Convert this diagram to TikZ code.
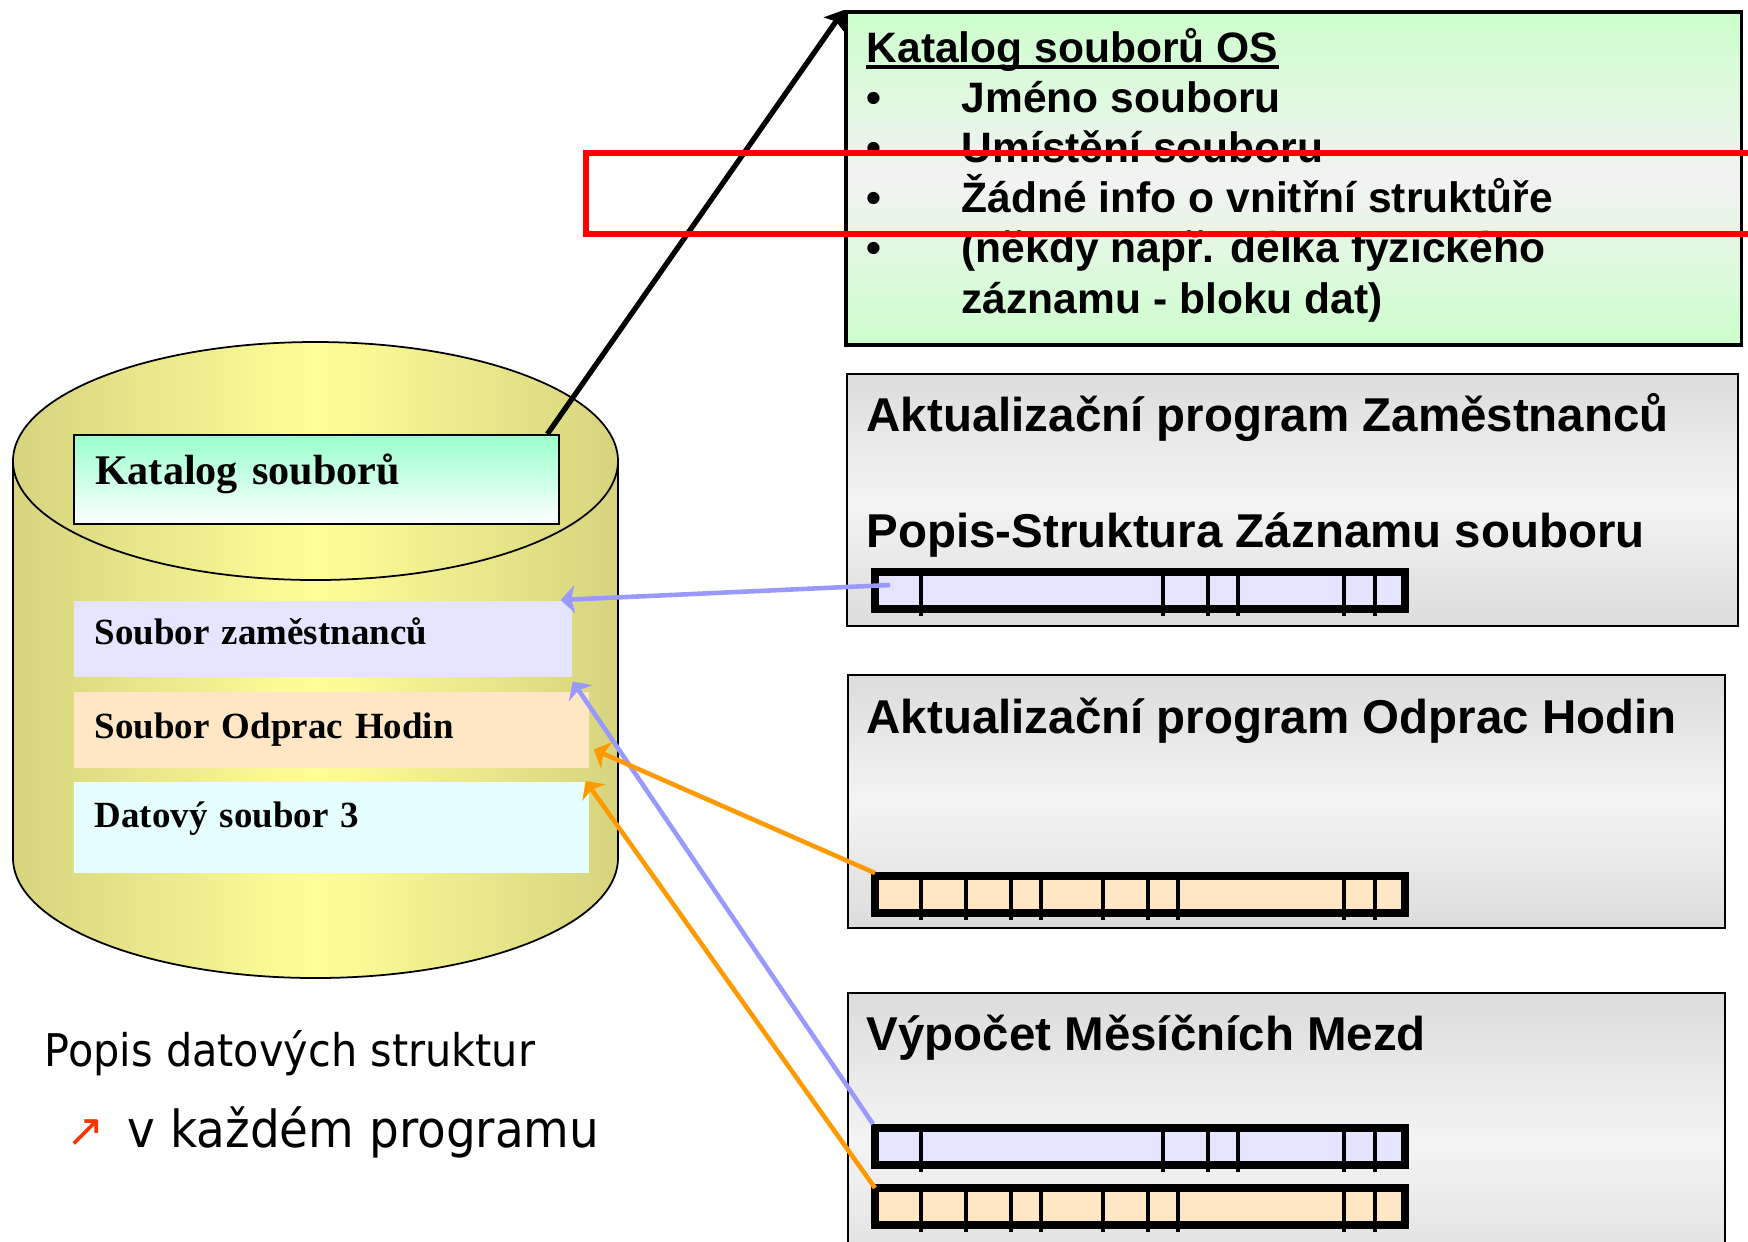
\documentclass[tikz,border=0pt]{standalone}
\usepackage{fontspec}
\setmainfont{Liberation Serif}
\newfontfamily\arialfont{Liberation Sans}
\newfontfamily\tahomafont[FakeStretch=0.92]{DejaVu Sans}
\newfontfamily\symbfont{DejaVu Sans}
\usetikzlibrary{arrows.meta,positioning}

\definecolor{khaki}{RGB}{214,212,126}
\definecolor{lightyel}{RGB}{255,255,153}
\definecolor{mint}{RGB}{153,255,204}
\definecolor{osgreen}{RGB}{204,255,204}
\definecolor{osmid}{RGB}{242,242,242}
\definecolor{zamblue}{RGB}{153,153,255}
\definecolor{zamfill}{RGB}{229,229,255}
\definecolor{hodorange}{RGB}{255,153,0}
\definecolor{hodfill}{RGB}{255,230,196}
\definecolor{datfill}{RGB}{229,255,255}
\definecolor{progedge}{RGB}{220,220,220}
\definecolor{progmid}{RGB}{244,244,244}
\definecolor{bulletred}{RGB}{255,51,0}

% one record layout: x, y (top), cell colour, divider positions
\newcommand{\recbar}[4]{%
  \filldraw[fill=#3, line width=2.3pt] (#1+4,#2+4) rectangle (#1+534,#2+41);
  \foreach \d in {#4} \draw[line width=1.4pt] (\d,#2+4) -- (\d,#2+48);
}

\tikzset{
  cylfill/.style={draw, line width=0.5pt, left color=khaki, right color=khaki, middle color=lightyel},
  filebox/.style={anchor=north west, inner xsep=0.21cm, inner ysep=0pt, align=left,
    font=\bfseries\fontsize{10.5}{13}\selectfont},
  progbox/.style={draw, line width=0.6pt, anchor=north west, top color=progedge,
    bottom color=progedge, middle color=progmid},
  heading/.style={anchor=base west, inner sep=0pt, font=\arialfont\bfseries\fontsize{13.5}{16}\selectfont},
  ostext/.style={anchor=base west, inner sep=0pt, font=\arialfont\bfseries\fontsize{12.1}{14}\selectfont},
  plain/.style={anchor=base west, inner sep=0pt},
  zarrow/.style={-{Stealth[length=4pt, width=8pt, inset=1pt]}, line width=1.3pt, zamblue},
  harrow/.style={-{Stealth[length=4pt, width=8pt, inset=1pt]}, line width=1.3pt, hodorange}
}

\begin{document}
\begin{tikzpicture}[x=0.01cm, y=-0.01cm]
  \useasboundingbox (0,0) rectangle (1748,1241);
  \clip (0,0) rectangle (1748,1241);

  % disk
  \path[cylfill] (13,461) -- (13,858) arc[start angle=180, end angle=0, x radius=302.5, y radius=120] -- (618,461);
  \path[cylfill] (315.5,461) ellipse[x radius=302.5, y radius=119];

  \node[draw, line width=0.6pt, top color=mint, bottom color=white, anchor=north west,
    minimum width=4.85cm, minimum height=0.89cm, inner xsep=0.21cm, text width=4.43cm, align=left,
    text depth=0.21cm, font=\bfseries\fontsize{12}{15}\selectfont] (kat) at (73,434) {Katalog souborů};

  \node[filebox, fill=zamfill, minimum height=0.76cm, text width=4.56cm, text depth=0.15cm] (zam) at (73,600) {Soubor zaměstnanců};
  \node[filebox, fill=hodfill, minimum height=0.76cm, text width=4.73cm] (odp) at (73,691) {Soubor Odprac Hodin};
  \node[filebox, fill=datfill, minimum height=0.91cm, text width=4.73cm, text depth=0.26cm] (dat) at (73,781) {Datový soubor 3};

  % catalog of the OS
  \node[draw, line width=1.1pt, anchor=north west, top color=osgreen, bottom color=osgreen,
    middle color=osmid, minimum width=8.95cm, minimum height=3.33cm] (os) at (844,10) {};
  \draw[-{Stealth[length=5pt, width=7pt, inset=1pt]}, line width=1.5pt] ([xshift=-0.13cm]kat.north east) -- (os.north west);

  \node[ostext] (ostitle) at (866,62) {Katalog souborů OS};
  \draw[line width=1pt] ([yshift=-0.05cm]ostitle.base west) -- ([yshift=-0.05cm]ostitle.base east);
  \foreach \y/\t in {112/Jméno souboru, 162/Umístění souboru, 212/Žádné info o vnitřní struktůře, 262/{(někdy např. délka fyzického}} {
    \node[ostext] (osb\y) at (866,\y) {•};
    \node[ostext] (ost\y) at (961,\y) {\t};
  }
  \node[ostext] (ost313) at (961,313) {záznamu - bloku dat)};

  % programs
  \node[progbox, minimum width=8.9cm, minimum height=2.52cm] (pz) at (846,373) {};
  \node[heading] (pzt) at (866,431) {Aktualizační program Zaměstnanců};
  \node[heading] (pzs) at (866,547) {Popis-Struktura Záznamu souboru};
  \recbar{871}{568}{zamfill}{921,1163,1208,1238,1344,1375}

  \node[progbox, minimum width=8.76cm, minimum height=2.53cm] (ph) at (847,674) {};
  \node[heading] (pht) at (866,733) {Aktualizační program Odprac Hodin};
  \recbar{871}{872}{hodfill}{921,966,1011,1041,1103,1148,1178,1344,1375}

  \node[progbox, minimum width=8.76cm, minimum height=3cm] (pm) at (847,992) {};
  \node[heading] (pmt) at (866,1050) {Výpočet Měsíčních Mezd};
  \recbar{871}{1124}{zamfill}{921,1163,1208,1238,1344,1375}
  \recbar{871}{1184}{hodfill}{921,966,1011,1041,1103,1148,1178,1344,1375}

  % links from the records to the files
  \coordinate (zs1) at (890,585);
  \coordinate (zs2) at (873,1124);
  \coordinate (hs1) at (875,873);
  \coordinate (hs2) at (875,1188);
  \draw[zarrow] (zs1) -- ([xshift=-0.12cm]zam.north east);
  \draw[zarrow] (zs2) -- ([yshift=-0.04cm]zam.south east);
  \draw[harrow] (hs1) -- ([shift={(0.04cm,0.19cm)}]odp.south east);
  \draw[harrow] (hs2) -- ([xshift=-0.04cm]dat.north east);

  \draw[red, line width=1.5pt] (586,153) rectangle (1770,234);

  \node[plain, font=\tahomafont\fontsize{12.8}{15}\selectfont] (popis) at (44,1066) {Popis datových struktur};
  \node[plain, font=\symbfont\fontsize{13}{14}\selectfont, text=bulletred] (arr) at (66,1146) {↗};
  \node[plain, font=\tahomafont\fontsize{14.5}{17}\selectfont] (kazdy) at (127,1147) {v každém programu};
\end{tikzpicture}
\end{document}
